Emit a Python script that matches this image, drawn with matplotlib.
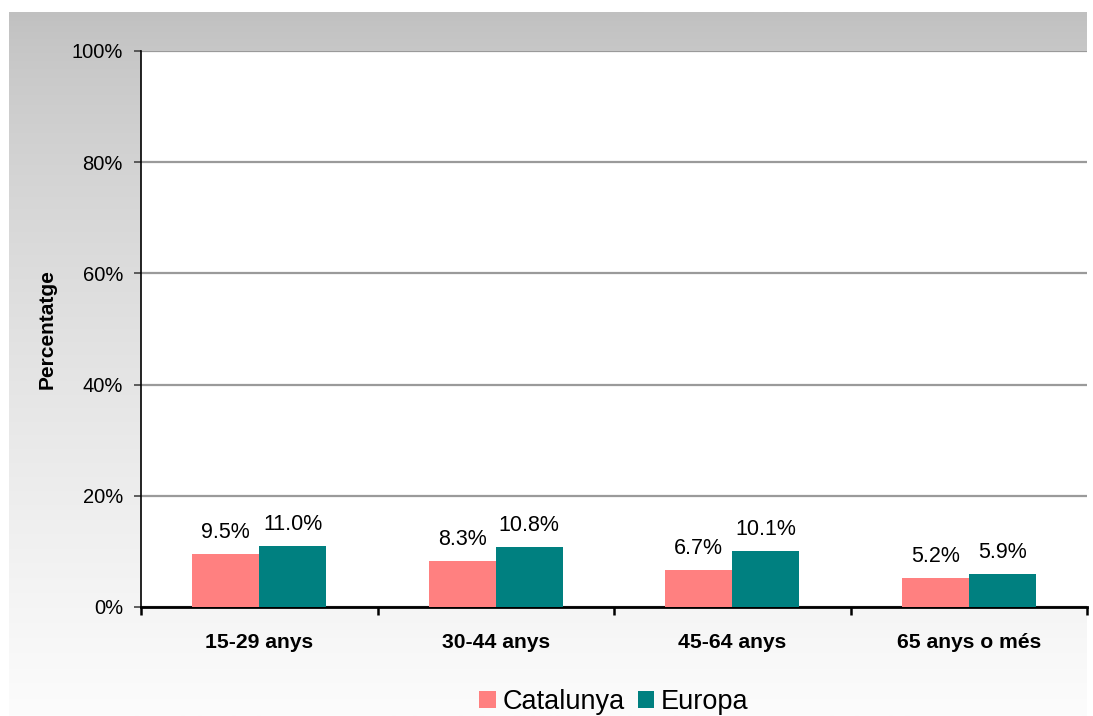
import numpy as np
import matplotlib
matplotlib.use("Agg")
import matplotlib.pyplot as plt

plt.rcParams['font.family'] = ['Liberation Sans', 'DejaVu Sans']

categories = ["15-29 anys", "30-44 anys", "45-64 anys", "65 anys o més"]
catalunya = [9.5, 8.3, 6.7, 5.2]
europa = [11.0, 10.8, 10.1, 5.9]
yticks = [0, 20, 40, 60, 80, 100]

W, H = 1093, 716
fig = plt.figure(figsize=(W / 100, H / 100), dpi=100)
fig.patch.set_facecolor("white")

# gray-to-white gradient backdrop
bg = fig.add_axes([9 / W, 0, (1087 - 9) / W, (H - 12) / H], zorder=0)
t = np.linspace(0, 1, 256) ** 0.75
grad = (192 + (252 - 192) * t)[:, None] / 255.0
bg.imshow(np.dstack([grad, grad, grad]), aspect="auto", extent=[0, 1, 0, 1], origin="upper")
bg.axis("off")

ax = fig.add_axes([141 / W, (H - 607) / H, (1087 - 141) / W, (607 - 51) / H], zorder=1)
ax.set_facecolor("white")

x = np.arange(len(categories))
bw = 0.283
b1 = ax.bar(x - bw / 2, catalunya, bw, color="#FF8080", label="Catalunya", zorder=3)
b2 = ax.bar(x + bw / 2, europa, bw, color="#008080", label="Europa", zorder=3)

for bars, vals in ((b1, catalunya), (b2, europa)):
    for r, v in zip(bars, vals):
        ax.annotate(f"{v:.1f}%", (r.get_x() + r.get_width() / 2, v),
                    xytext=(0, 8), textcoords="offset points",
                    ha="center", va="bottom", fontsize=15.5)

ax.set_xlim(-0.5, len(categories) - 0.5)
ax.set_ylim(0, 100)
ax.set_yticks(yticks)
ax.set_yticklabels([f"{v}%" for v in yticks], fontsize=14.5)
ax.yaxis.grid(True, color="#9A9A9A", linewidth=1.6, zorder=1)
ax.set_axisbelow(True)

ax.set_xticks(np.arange(len(categories) + 1) - 0.5)
ax.set_xticklabels([])
ax.set_xticks(x, minor=True)
ax.set_xticklabels(categories, minor=True, fontsize=15.2, fontweight="bold")
ax.tick_params(axis="x", which="major", direction="out", length=6, width=1.8, color="black")
ax.tick_params(axis="x", which="minor", length=0, pad=19)
ax.tick_params(axis="y", direction="out", length=5, width=1.2, color="#444444", pad=8)

for s in ("top", "right"):
    ax.spines[s].set_visible(False)
ax.spines["bottom"].set_linewidth(2)
ax.spines["left"].set_linewidth(1.2)

ax.set_ylabel("Percentatge", fontsize=15, fontweight="bold", labelpad=11)

ax.legend(loc="center", bbox_to_anchor=(0.5, -0.171), ncol=2, frameon=False,
          fontsize=19.5, handlelength=0.6, handleheight=0.6, handletextpad=0.25,
          columnspacing=0.5)

fig.savefig("out.png", dpi=100)
